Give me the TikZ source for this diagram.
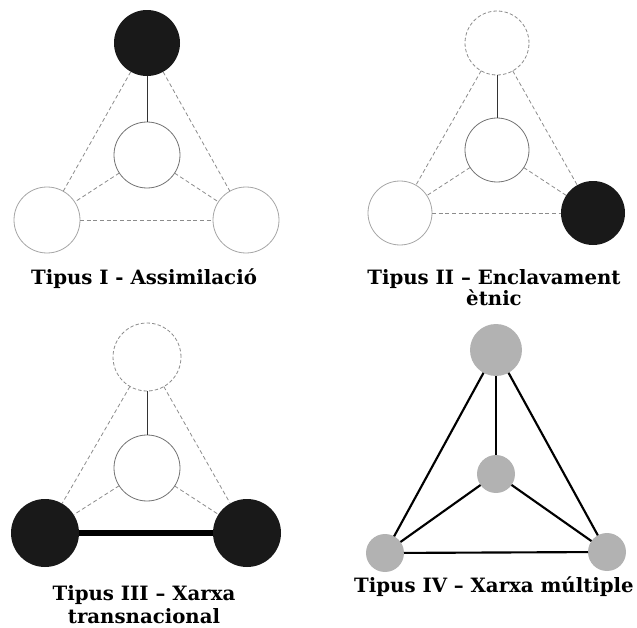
\documentclass[tikz,border=0pt]{standalone}
\usepackage{fontspec}
\setmainfont{DejaVu Serif}
\begin{document}
\begin{tikzpicture}[x=0.75pt,y=-0.75pt,
  every node/.style={inner sep=0pt, outer sep=0pt},
  actor/.style={circle, minimum size=#1*1.5pt, line width=0.6pt},
  actor/.default=33,
  plain/.style={actor=#1, draw=black!35, fill=white},
  plain/.default=33,
  hub/.style={actor=#1, draw=black!55, fill=white},
  hub/.default=33,
  ghost/.style={actor=#1, draw=black!45, fill=white, dashed, dash pattern=on 2.6pt off 1.6pt},
  ghost/.default=33,
  dark/.style={actor=#1, fill=black!90},
  dark/.default=33,
  dot/.style={actor=#1, fill=black!30},
  dot/.default=19,
  weak/.style={draw=black!45, line width=0.6pt, dash pattern=on 3pt off 2pt},
  tie/.style={draw=black!80, line width=0.6pt},
  strong/.style={draw=black, line width=4pt},
  full/.style={draw=black, line width=1.6pt},
  caption/.style={font=\fontsize{14.8}{18}\selectfont\bfseries, anchor=base}
]
\useasboundingbox (0,0) rectangle (637,628);

% --- Type I: assimilation ---
\node[dark]  (aT) at (147,43)  {};
\node[hub]   (aC) at (147,155) {};
\node[plain] (aL) at (47,220)  {};
\node[plain] (aR) at (246,220) {};
\draw[tie]  (aT) -- (aC);
\draw[weak] (aT) -- (aL);
\draw[weak] (aT) -- (aR);
\draw[weak] (aC) -- (aL);
\draw[weak] (aC) -- (aR);
\draw[weak] (aL) -- (aR);
\node[caption] (aCap) at (144,284) {Tipus I - Assimilació};

% --- Type II: ethnic enclave ---
\node[ghost=32] (bT) at (497,43)  {};
\node[hub=32]   (bC) at (497,150) {};
\node[plain=32] (bL) at (400,213) {};
\node[dark=32]  (bR) at (593,213) {};
\draw[tie]  (bT) -- (bC);
\draw[weak] (bT) -- (bL);
\draw[weak] (bT) -- (bR);
\draw[weak] (bC) -- (bL);
\draw[weak] (bC) -- (bR);
\draw[weak] (bL) -- (bR);
\node[caption] (bCap1) at (494,284) {Tipus II – Enclavament};
\node[caption] (bCap2) at (494,305) {ètnic};

% --- Type III: transnational network ---
\node[ghost=34] (cT) at (147,357) {};
\node[hub]      (cC) at (147,468) {};
\node[dark=34]  (cL) at (45,533)  {};
\node[dark=34]  (cR) at (247,533) {};
\draw[tie]    (cT) -- (cC);
\draw[weak]   (cT) -- (cL);
\draw[weak]   (cT) -- (cR);
\draw[weak]   (cC) -- (cL);
\draw[weak]   (cC) -- (cR);
\draw[strong] (cL) -- (cR);
\node[caption] (cCap1) at (144,600) {Tipus III – Xarxa};
\node[caption] (cCap2) at (144,623) {transnacional};

% --- Type IV: multiple network ---
\node[dot=26] (dT) at (496,350) {};
\node[dot]    (dC) at (496,474) {};
\node[dot]    (dL) at (385,553) {};
\node[dot]    (dR) at (607,552) {};
\draw[full] (dT) -- (dC);
\draw[full] (dT) -- (dL);
\draw[full] (dT) -- (dR);
\draw[full] (dC) -- (dL);
\draw[full] (dC) -- (dR);
\draw[full] (dL) -- (dR);
\node[caption] (dCap) at (494,592) {Tipus IV – Xarxa múltiple};
\end{tikzpicture}
\end{document}
